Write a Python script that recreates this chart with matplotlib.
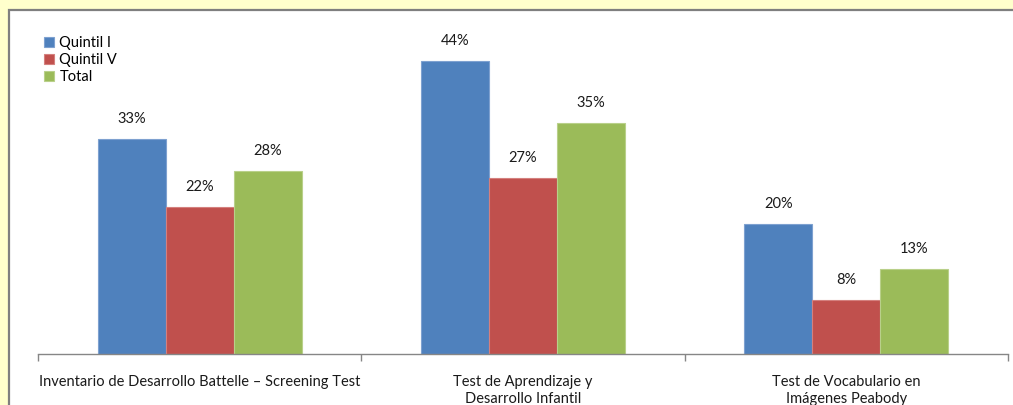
import numpy as np
import matplotlib
matplotlib.use('Agg')
import matplotlib.pyplot as plt
import matplotlib.patches as mpatches

plt.rcParams['font.family'] = ['Lato', 'DejaVu Sans']

# ── datos ──
categorias = ['Inventario de Desarrollo Battelle – Screening Test',
              'Test de Aprendizaje y\nDesarrollo Infantil',
              'Test de Vocabulario en\nImágenes Peabody']
series = ['Quintil I', 'Quintil V', 'Total']
quintil_1 = [32.6, 44.4, 19.7]
quintil_5 = [22.3, 26.7, 8.2]
total = [27.7, 35.0, 12.9]
colores = ['#4F81BD', '#C0504D', '#9BBB59']
bordes = ['#7EA1D0', '#D4807E', '#B9D08A']

W, H = 1013, 405
fig = plt.figure(figsize=(W / 100, H / 100), dpi=100)
fig.patch.set_facecolor('#FFFFCC')

# marco blanco con borde gris (sale por la derecha y abajo)
fig.patches.append(mpatches.Rectangle((9 / W, -0.2), 1.2, 1.2 - 10 / H,
                                      transform=fig.transFigure, facecolor='white',
                                      edgecolor='#7F7F7F', lw=1.6, zorder=-5))

ax = fig.add_axes([38 / W, 51 / H, 970 / W, 334 / H])
ax.set_facecolor('none')

x = np.arange(len(categorias))
bw = 0.21
for i, (vals, col, bc, name) in enumerate(zip([quintil_1, quintil_5, total],
                                              colores, bordes, series)):
    pos = x + (i - 1) * bw
    ax.bar(pos, vals, width=bw, color=col, edgecolor=bc, lw=0.8, label=name, zorder=2)
    for p, v in zip(pos, vals):
        ax.text(p, v + 3.0, f'{v:.0f}%', ha='center', va='center', fontsize=10.5,
                color='#1A1A1A')

ax.set_xlim(-0.5, 2.5)
ax.set_ylim(0, 50.6)
ax.set_yticks([])
for s in ['top', 'right', 'left']:
    ax.spines[s].set_visible(False)
ax.spines['bottom'].set_color('#868686')
ax.spines['bottom'].set_linewidth(1.0)

ax.set_xticks(x)
ax.set_xticklabels(categorias, fontsize=10.5, color='#1A1A1A', linespacing=1.3)
ax.tick_params(axis='x', which='major', length=0, pad=15)
ax.set_xticks([-0.5, 0.5, 1.5, 2.5], minor=True)
ax.tick_params(axis='x', which='minor', length=5, color='#868686', width=1.0)

ax.legend(loc='upper left', bbox_to_anchor=(44 / W, 1 - 36 / H),
          bbox_transform=fig.transFigure, frameon=False, fontsize=10.5,
          handlelength=0.7, handleheight=0.7, handletextpad=0.35,
          labelspacing=0.2, borderpad=0, borderaxespad=0)

fig.savefig('out.png', dpi=100, facecolor=fig.get_facecolor())
